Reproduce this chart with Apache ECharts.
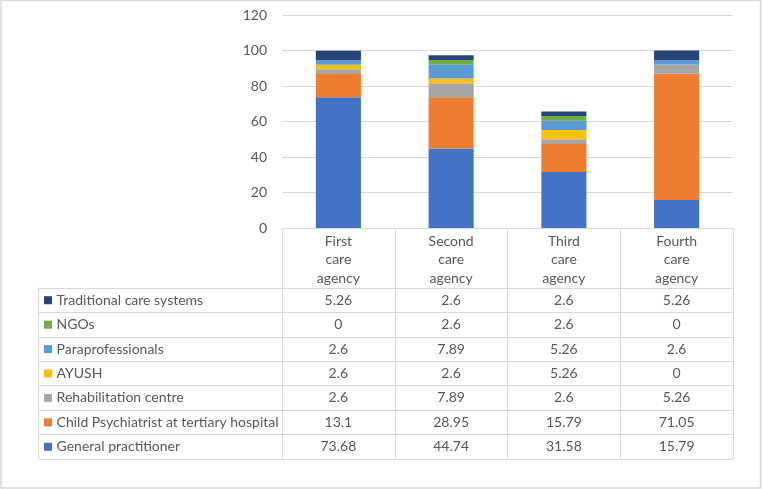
<!DOCTYPE html>
<html>
<head>
<meta charset="utf-8">
<script src="https://cdn.jsdelivr.net/npm/echarts@6/dist/echarts.min.js"></script>
<style>
  html, body { margin: 0; padding: 0; background: #fff; }
  #chart { width: 762px; height: 489px; }
</style>
</head>
<body>
<div id="chart"></div>
<script>
// agencies (columns)
var agencies = ['First\ncare\nagency', 'Second\ncare\nagency', 'Third\ncare\nagency', 'Fourth\ncare\nagency'];

// series, bottom of stack first
var seriesNames = [
  'General practitioner',
  'Child Psychiatrist at tertiary hospital',
  'Rehabilitation centre',
  'AYUSH',
  'Paraprofessionals',
  'NGOs',
  'Traditional care systems'
];
var generalPractitioner = [73.68, 44.74, 31.58, 15.79];
var childPsychiatrist = [13.1, 28.95, 15.79, 71.05];
var rehabilitationCentre = [2.6, 7.89, 2.6, 5.26];
var ayush = [2.6, 2.6, 5.26, 0];
var paraprofessionals = [2.6, 7.89, 5.26, 2.6];
var ngos = [0, 2.6, 2.6, 0];
var traditionalCare = [5.26, 2.6, 2.6, 5.26];

var seriesValues = [generalPractitioner, childPsychiatrist, rehabilitationCentre, ayush, paraprofessionals, ngos, traditionalCare];
var colors = ['#4472C4', '#ED7D31', '#A5A5A5', '#FFC000', '#5B9BD5', '#70AD47', '#264478'];

var yTicks = { min: 0, max: 120, interval: 20 };

var textColor = '#595959';
var lineColor = '#D9D9D9';
var font = 'Lato';
var fontSize = 14;

// table rows top to bottom
var tableRows = seriesNames.slice().reverse();
var tableColors = colors.slice().reverse();
var tableValues = seriesValues.slice().reverse();

var cells = [];
tableValues.forEach(function (vals, r) {
  vals.forEach(function (v, c) {
    cells.push([c, r, v]);
  });
});

var rich = {};
tableColors.forEach(function (c, i) {
  rich['c' + i] = { backgroundColor: c, width: 8, height: 8 };
});
rich.t = { color: textColor, fontSize: fontSize, fontFamily: font, padding: [0, 0, 0, 1] };

var chart = echarts.init(document.getElementById('chart'));

var barSeries = seriesNames.map(function (name, i) {
  return {
    name: name,
    type: 'bar',
    stack: 'total',
    xAxisIndex: 0,
    yAxisIndex: 0,
    barWidth: '40%',
    itemStyle: { color: colors[i] },
    data: seriesValues[i]
  };
});

chart.setOption({
  animation: false,
  graphic: [{
    type: 'rect',
    shape: { x: 1, y: 0.5, width: 759.5, height: 487.5 },
    style: { fill: 'none', stroke: lineColor, lineWidth: 1.5 },
    silent: true
  }],
  grid: [
    { left: 282, right: 29, top: 15, bottom: 261 },
    { left: 282, right: 29, top: 288, bottom: 30 }
  ],
  xAxis: [
    {
      gridIndex: 0,
      type: 'category',
      data: agencies,
      axisLine: { lineStyle: { color: lineColor } },
      axisTick: { show: true, length: 60, lineStyle: { color: lineColor } },
      axisLabel: {
        color: textColor, fontSize: fontSize, fontFamily: font,
        lineHeight: 18.5, margin: 4, interval: 0
      }
    },
    {
      gridIndex: 1,
      type: 'category',
      position: 'top',
      data: agencies,
      axisLine: { lineStyle: { color: lineColor } },
      axisTick: { show: false },
      axisLabel: { show: false },
      splitLine: { show: true, interval: 0, lineStyle: { color: lineColor } }
    },
    {
      gridIndex: 1,
      type: 'category',
      position: 'bottom',
      data: agencies,
      axisLine: { lineStyle: { color: lineColor } },
      axisTick: { show: false },
      axisLabel: { show: false }
    }
  ],
  yAxis: [
    {
      gridIndex: 0,
      type: 'value',
      min: yTicks.min,
      max: yTicks.max,
      interval: yTicks.interval,
      axisLine: { show: false },
      axisTick: { show: false },
      axisLabel: { color: textColor, fontSize: fontSize, fontFamily: font, margin: 15 },
      splitLine: { lineStyle: { color: lineColor } }
    },
    {
      gridIndex: 1,
      type: 'category',
      inverse: true,
      data: tableRows,
      axisLine: { show: true, lineStyle: { color: lineColor } },
      axisTick: { show: true, length: 244, lineStyle: { color: lineColor } },
      splitLine: { show: true, interval: 0, lineStyle: { color: lineColor } },
      axisLabel: {
        align: 'left',
        margin: 238,
        formatter: function (value, index) {
          return '{c' + index + '|}{t| ' + value + '}';
        },
        rich: rich
      }
    },
    {
      gridIndex: 1,
      type: 'category',
      position: 'left',
      offset: 244,
      inverse: true,
      data: tableRows,
      axisLine: { show: true, lineStyle: { color: lineColor } },
      axisTick: { show: false },
      axisLabel: { show: false }
    }
  ],
  series: barSeries.concat([{
    type: 'custom',
    xAxisIndex: 1,
    yAxisIndex: 1,
    data: cells,
    renderItem: function (params, api) {
      var p = api.coord([api.value(0), api.value(1)]);
      return {
        type: 'text',
        style: {
          text: String(api.value(2)),
          x: p[0],
          y: p[1],
          align: 'center',
          verticalAlign: 'middle',
          fill: textColor,
          fontSize: fontSize,
          fontFamily: font
        }
      };
    }
  }])
});
</script>
</body>
</html>
